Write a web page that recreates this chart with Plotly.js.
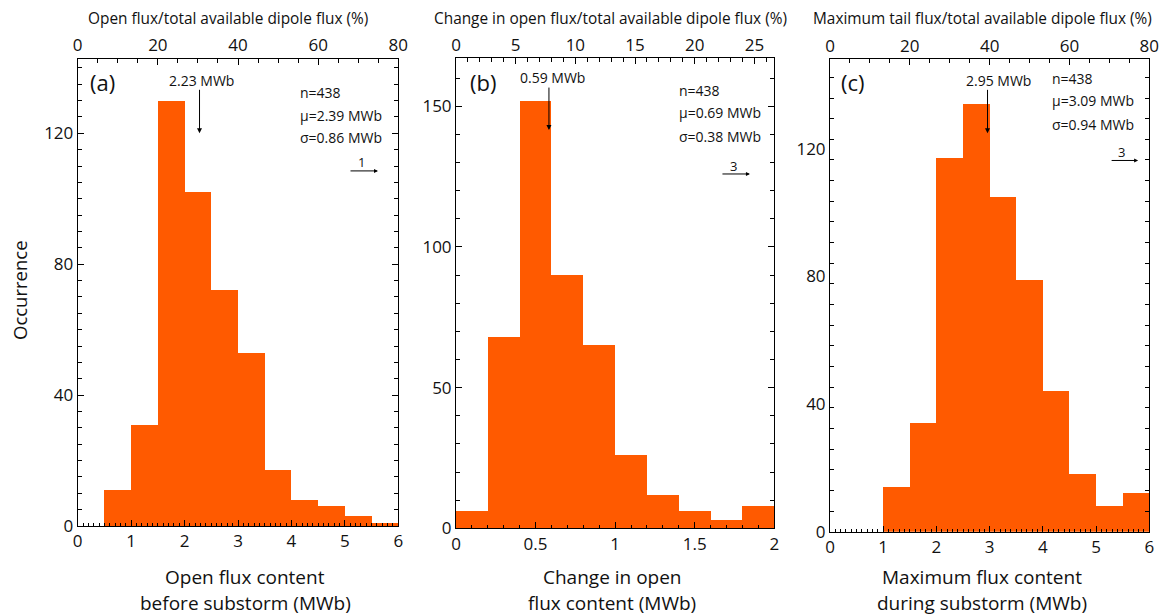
<!DOCTYPE html>
<html>
<head>
<meta charset="utf-8">
<script src="https://cdn.plot.ly/plotly-3.0.1.min.js"></script>
<style>html,body{margin:0;padding:0;background:#fff;}#chart{width:1160px;height:615px;}</style>
</head>
<body>
<div id="chart"></div>
<script>
// ---- data ----
const binStartA = [0.5, 1, 1.5, 2, 2.5, 3, 3.5, 4, 4.5, 5, 5.5];
const countsA   = [11, 31, 130, 102, 72, 53, 17, 8, 6, 3, 1];
const binWidthA = 0.5;

const binStartB = [0, 0.2, 0.4, 0.6, 0.8, 1.0, 1.2, 1.4, 1.6, 1.8];
const countsB   = [6, 68, 152, 90, 65, 26, 12, 6, 3, 8];
const binWidthB = 0.2;

const binStartC = [1, 1.5, 2, 2.5, 3, 3.5, 4, 4.5, 5, 5.5];
const countsC   = [14, 34, 117, 134, 105, 79, 44, 18, 8, 12];
const binWidthC = 0.5;

const mediansText = ["2.23 MWb", "0.59 MWb", "2.95 MWb"];
const statsA = ["n=438", "μ=2.39 MWb", "σ=0.86 MWb"];
const statsB = ["n=438", "μ=0.69 MWb", "σ=0.38 MWb"];
const statsC = ["n=438", "μ=3.09 MWb", "σ=0.94 MWb"];
const panelLabels = ["(a)", "(b)", "(c)"];
const topTitles = ["Open flux/total available dipole flux (%)",
                   "Change in open flux/total available dipole flux (%)",
                   "Maximum tail flux/total available dipole flux (%)"];
const bottomTitles = [["Open flux content", "before substorm (MWb)"],
                      ["Change in open", "flux content (MWb)"],
                      ["Maximum flux content", "during substorm (MWb)"]];
const yTitle = "Occurrence";

// ---- styling helpers ----
const W = 1160, H = 615;
const px = x => x / W;
const py = y => 1 - y / H;
const FONT = "Open Sans, Liberation Sans, sans-serif";
const BAR = "#FF5A00";

function bars(xs, ys, w, xa, ya) {
  return {type: "bar", x: xs, y: ys, width: w, offset: 0, xaxis: xa, yaxis: ya,
          marker: {color: BAR, line: {width: 0}}, showlegend: false, hoverinfo: "x+y"};
}
function dummy(xa, ya) {
  return {type: "scatter", mode: "markers", x: [], y: [], xaxis: xa, yaxis: ya, showlegend: false, hoverinfo: "skip"};
}

const data = [
  bars(binStartA, countsA, binWidthA, "x", "y"),
  bars(binStartB, countsB, binWidthB, "x3", "y2"),
  bars(binStartC, countsC, binWidthC, "x5", "y3"),
  dummy("x2", "y"), dummy("x4", "y2"), dummy("x6", "y3")
];

const axBase = {
  showline: true, linecolor: "#000", linewidth: 1, showgrid: false, zeroline: false,
  ticks: "inside", tickcolor: "#000", tickwidth: 1, ticklen: 6,
  tickfont: {family: FONT, size: 17, color: "#111"}, fixedrange: true
};
function xb(domain, anchor, range, dtick, minor) {
  return Object.assign({}, axBase, {domain: domain, anchor: anchor, range: range, dtick: dtick, tick0: 0,
    minor: {dtick: minor, tick0: 0, ticks: "inside", ticklen: 3, tickcolor: "#000", showgrid: false}});
}
function xt(over, anchor, range, dtick, minor) {
  return Object.assign({}, axBase, {overlaying: over, side: "top", anchor: anchor, range: range, dtick: dtick, tick0: 0,
    ticklen: 6,
    minor: {dtick: minor, tick0: 0, ticks: "inside", ticklen: 4, tickcolor: "#000", showgrid: false}});
}
function yl(domain, anchor, range, dtick, minor, majorLen) {
  return Object.assign({}, axBase, {domain: domain, anchor: anchor, range: range, dtick: dtick, tick0: 0,
    ticklen: majorLen, mirror: "ticks",
    minor: {dtick: minor, tick0: 0, ticks: "inside", ticklen: 4, tickcolor: "#000", showgrid: false}});
}

const ann = [];
function txt(text, x, y, size, opts) {
  ann.push(Object.assign({text: text, x: px(x), y: py(y), xref: "paper", yref: "paper",
    showarrow: false, xanchor: "center", yanchor: "middle",
    font: {family: FONT, size: size, color: "#111"}}, opts || {}));
}
function arrow(xa, ya, x, y, ax, ay, size) {
  ann.push({text: "", x: x, y: y, xref: xa, yref: ya, ax: ax, ay: ay, axref: "pixel", ayref: "pixel",
    showarrow: true, arrowhead: 2, arrowsize: size, arrowwidth: 1, arrowcolor: "#000", standoff: 0});
}

// panel labels
txt(panelLabels[0], 102, 82, 22);
txt(panelLabels[1], 483, 82, 22);
txt(panelLabels[2], 853, 82, 22);
// median arrows and texts
txt(mediansText[0], 202, 80, 14);
arrow("x", "y", 2.28, 120, 0, -45, 1);
txt(mediansText[1], 552, 77, 14);
arrow("x3", "y2", 0.584, 141.5, 0, -44, 1);
txt(mediansText[2], 998, 80, 14);
arrow("x5", "y3", 2.96, 124.8, 0, -45, 1);
// stats
[92, 115, 137].forEach((y, i) => txt(statsA[i], 298, y, 14, {xanchor: "left"}));
[90, 113, 136].forEach((y, i) => txt(statsB[i], 677, y, 14, {xanchor: "left"}));
[78, 101, 124].forEach((y, i) => txt(statsC[i], 1050, y, 14, {xanchor: "left"}));
// small arrows
arrow("x", "y", 5.62, 108.5, -29, 0, 0.8);
txt("1", 361, 162, 13);
arrow("x3", "y2", 1.847, 125.9, -29, 0, 0.8);
txt("3", 733, 166, 13);
arrow("x5", "y3", 5.79, 116.3, -28, 0, 0.8);
txt("3", 1121, 152, 13);
// titles
txt(topTitles[0], 228, 18, 15.4);
txt(topTitles[1], 610, 18, 15.4);
txt(topTitles[2], 983, 18, 15.4);
[[245, 0], [612, 1], [982, 2]].forEach(([x, i]) => {
  txt(bottomTitles[i][0], x, 577, 19);
  txt(bottomTitles[i][1], x, 603, 19);
});
txt(yTitle, 19, 290, 18.5, {textangle: -90});

const layout = {
  width: W, height: H, margin: {l: 0, r: 0, t: 0, b: 0},
  paper_bgcolor: "#fff", plot_bgcolor: "#fff", bargap: 0, showlegend: false,
  font: {family: FONT, color: "#111"},
  xaxis:  xb([px(77.7), px(398.3)], "y", [0, 6], 1, 0.1),
  xaxis2: xt("x", "y", [0, 80], 20, 5),
  yaxis:  yl([py(526), py(59)], "x", [0, 142.7], 40, 5, 6),
  xaxis3: xb([px(456), px(774.3)], "y2", [0, 2], 0.5, 0.1),
  xaxis4: xt("x3", "y2", [0, 80 / 3], 5, 1),
  yaxis2: yl([py(528.3), py(58.3)], "x3", [0, 167], 50, 10, 6),
  xaxis5: xb([px(830), px(1149.3)], "y3", [0, 6], 1, 0.1),
  xaxis6: xt("x5", "y3", [0, 80], 20, 5),
  yaxis3: yl([py(531.7), py(59.3)], "x5", [0, 148], 40, 6.47, 0),
  annotations: ann
};

Plotly.newPlot("chart", data, layout, {displayModeBar: false, staticPlot: true});
</script>
</body>
</html>
